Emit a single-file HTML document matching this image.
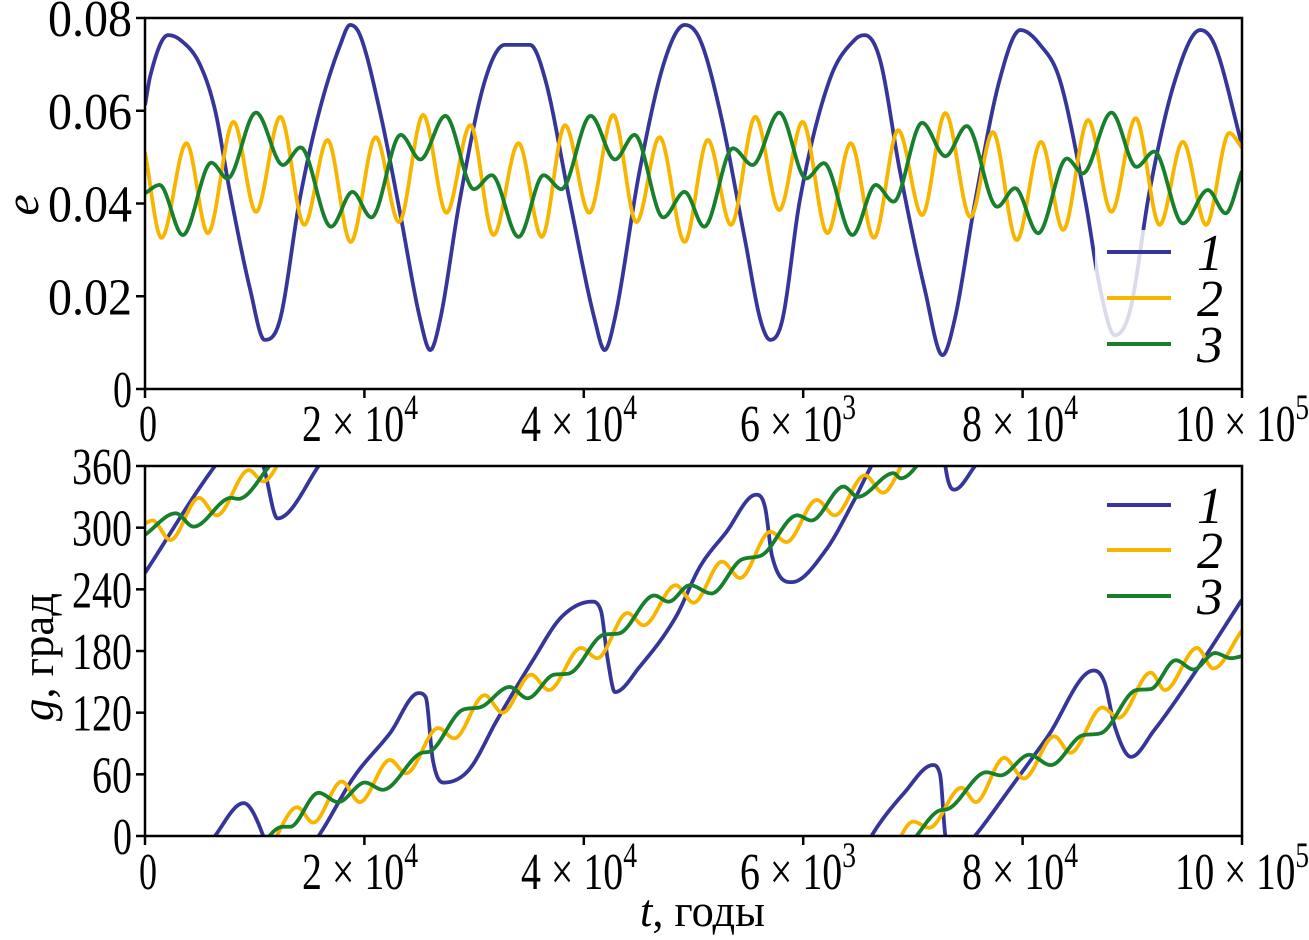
<!DOCTYPE html>
<html><head><meta charset="utf-8">
<style>
html,body{margin:0;padding:0;background:#fff;}
svg{display:block;}
text{font-family:"Liberation Serif","DejaVu Serif",serif;fill:#000;}
</style></head>
<body>
<svg id="chart" width="1309" height="940" viewBox="0 0 1309 940" xmlns="http://www.w3.org/2000/svg">
<defs>
<clipPath id="clipTop"><rect x="145" y="18" width="1097" height="371"/></clipPath>
<clipPath id="clipBot"><rect x="145" y="466" width="1097" height="370"/></clipPath>
</defs>
<g id="topPanel"></g>
<g id="botPanel"></g>
</svg>
<script>
// ---- data (t in thousands of years) ----
const xTickValues = [0, 20, 40, 60, 80, 100];
const xTickLabels = [["0",""],["2 × 10","4"],["4 × 10","4"],["6 × 10","3"],["8 × 10","4"],["10 × 10","5"]];
const eTickValues = [0, 0.02, 0.04, 0.06, 0.08];
const eTickLabels = ["0","0.02","0.04","0.06","0.08"];
const gTickValues = [0, 60, 120, 180, 240, 300, 360];
const gTickLabels = ["0","60","120","180","240","300","360"];
const seriesNames = ["1","2","3"];

const blueET = [0,0.5,2.1,3.2,5,6.4,7.7,9.6,10.9,12.3,14.1,15.9,17.8,18.7,19.6,21.4,23.2,25.1,26,26.9,28.7,31,32.8,35.1,36.5,38.7,41,41.9,42.8,45.1,47.4,49.2,50.6,52.4,54.7,56.1,57,58.1,59.7,62.4,64.7,65.6,67,68.8,71.1,72.7,73.8,75.7,77.9,79.8,81.6,83.4,85.7,87.1,88.4,89.8,91.6,93.9,96.2,97.5,100];
const blueEV = [0.0612,0.0677,0.0763,0.0753,0.070,0.060,0.043,0.0213,0.0106,0.0149,0.0408,0.060,0.0742,0.0785,0.0763,0.060,0.0386,0.0149,0.0084,0.0149,0.0408,0.0666,0.0742,0.0742,0.0666,0.0408,0.0149,0.0084,0.0149,0.0472,0.071,0.0785,0.0753,0.060,0.0321,0.0149,0.0106,0.0149,0.0408,0.0666,0.0753,0.0763,0.071,0.0472,0.0213,0.0073,0.0149,0.0408,0.0666,0.0774,0.0742,0.0666,0.0408,0.0213,0.0116,0.017,0.043,0.0666,0.0774,0.0742,0.0526];

const orangeET = [0,1.50,3.78,5.73,8.07,10.12,12.34,14.52,16.64,18.75,21.03,23.15,25.36,27.48,29.66,31.77,34.05,36.17,38.29,40.50,42.68,44.80,46.91,49.19,51.31,53.42,55.64,57.82,59.94,62.21,64.33,66.45,68.66,70.84,72.96,75.24,77.29,79.47,81.68,83.70,85.98,88.10,90.31,92.49,94.61,96.73,98.84,100];
const orangeEV = [0.051,0.0326,0.053,0.0336,0.0576,0.0382,0.0587,0.0354,0.0537,0.0317,0.0543,0.036,0.0591,0.038,0.0569,0.0332,0.053,0.0328,0.0569,0.038,0.0591,0.036,0.0543,0.0317,0.0537,0.0354,0.0587,0.0386,0.0576,0.0336,0.053,0.0326,0.0558,0.0375,0.0595,0.0371,0.0554,0.0321,0.0533,0.0343,0.058,0.0382,0.0584,0.0354,0.0533,0.0354,0.0552,0.052];

const greenET = [0,1.33,3.45,6.05,7.52,10.12,12.57,14.19,16.96,18.91,20.64,23.31,25.10,27.38,29.98,31.61,34.05,36.33,37.96,40.63,42.84,44.63,47.24,49.19,50.98,53.59,55.38,57.82,60.26,61.89,64.49,66.61,68.24,70.84,72.96,74.91,77.68,79.31,81.42,84.03,85.49,88.10,90.38,92.00,94.61,96.89,98.51,100];
const greenEV = [0.0422,0.0440,0.0332,0.0488,0.0454,0.0596,0.0483,0.0521,0.0350,0.0425,0.0370,0.0548,0.0495,0.0589,0.0431,0.0461,0.0328,0.0461,0.0431,0.0589,0.0495,0.0548,0.0370,0.0425,0.0350,0.0519,0.0483,0.0596,0.0454,0.0487,0.0332,0.0440,0.0404,0.0574,0.0502,0.0567,0.0393,0.0433,0.0336,0.0497,0.0465,0.0596,0.0479,0.0512,0.0357,0.0429,0.0379,0.047];

// g values unwrapped (degrees, plotted modulo 360)
const blueGT = [0,6.38,8.99,10.78,12.08,15.82,19.08,22.33,24.94,25.59,26.24,27.22,29.50,32.10,35.36,37.96,40.73,41.54,42.19,42.84,45.12,48.38,50.59,52.94,55.70,56.52,57.17,58.96,62.05,64.66,66.28,69.21,71.82,72.47,72.96,73.77,75.73,78.98,82.24,86.47,87.45,88.42,89.89,92.00,95.26,100];
const blueGV = [256,360,392,360,309,360,418,460,499,495,434,412,424,473,531,573,588,580,531,500,525,573,622,655,692,680,632,607,638,687,721,762,789,780,720,697,721,768,816,881,870,826,797,823,872,950];

const orangeGT = [0,0.68,2.31,4.92,6.54,9.47,10.78,13.87,15.33,17.94,19.57,22.33,23.80,26.73,28.19,30.96,32.59,35.19,36.82,39.75,41.22,43.98,45.45,48.38,50.01,52.61,54.24,57.01,58.47,61.24,62.87,65.63,67.26,70.03,71.49,74.42,75.73,78.33,80.12,82.89,84.35,87.28,88.75,91.68,92.98,95.91,97.38,100];
const orangeGV = [304,307,288,329,312,356,345,388,373,413,393,434,421,465,455,497,480,517,502,543,533,577,565,604,587,627,611,656,646,687,672,711,694,734,728,767,753,796,776,817,801,845,835,879,862,903,883,920];

const greenGT = [0,2.80,4.43,7.85,8.50,12.57,13.22,15.82,17.61,20.05,21.68,25.26,25.91,29.01,30.47,33.24,34.87,37.31,38.61,41.87,43.17,46.43,47.73,49.68,51.63,54.40,56.19,59.45,60.75,63.68,64.98,68.24,68.89,72.47,73.12,76.70,78.00,80.61,82.56,85.49,87.12,90.38,91.68,93.96,95.59,97.54,99.0,100];
const greenGV = [293,314,301,329,328,369,369,402,393,412,405,441,442,483,485,505,494,517,518,556,557,594,588,604,596,629,633,672,667,700,690,713,708,745,746,782,779,799,789,818,820,862,863,891,882,898,893,895];

// ---- axes ----
const X0=145, X1=1242;
const x = t => X0 + (t/100)*(X1-X0);
const yE = v => 389 - (v/0.08)*(389-18);
const yG = v => 836 - (v/360)*(836-466);

const NS="http://www.w3.org/2000/svg";
function mk(tag, attrs, parent){const e=document.createElementNS(NS,tag);for(const k in attrs)e.setAttribute(k,attrs[k]);parent.appendChild(e);return e;}

// monotone cubic (Fritsch-Carlson) sampling
function sample(T,V,n){
  const N=T.length, d=[], m=new Array(N);
  for(let i=0;i<N-1;i++) d.push((V[i+1]-V[i])/(T[i+1]-T[i]));
  m[0]=d[0]; m[N-1]=d[N-2];
  for(let i=1;i<N-1;i++){ m[i]=(d[i-1]*d[i]<=0)?0:(d[i-1]+d[i])/2; }
  for(let i=0;i<N-1;i++){
    if(d[i]===0){m[i]=0;m[i+1]=0;continue;}
    const a=m[i]/d[i], b=m[i+1]/d[i], s=a*a+b*b;
    if(s>9){const tau=3/Math.sqrt(s);m[i]=tau*a*d[i];m[i+1]=tau*b*d[i];}
  }
  const out=[];
  for(let i=0;i<N-1;i++){
    const h=T[i+1]-T[i];
    for(let k=0;k<n;k++){
      const s=k/n, h00=2*s*s*s-3*s*s+1, h10=s*s*s-2*s*s+s, h01=-2*s*s*s+3*s*s, h11=s*s*s-s*s;
      out.push([T[i]+s*h, h00*V[i]+h10*h*m[i]+h01*V[i+1]+h11*h*m[i+1]]);
    }
  }
  out.push([T[N-1],V[N-1]]);
  return out;
}

const colors = ["#36369a","#f7b500","#18802c"];

function drawAxes(g, yf, tv, tl, yTop, yBottom, labelBase){
  const fr=mk('rect',{x:X0,y:yTop,width:X1-X0,height:yBottom-yTop,fill:'none',stroke:'#000','stroke-width':2.5},g);
  
  
  tv.forEach((v,i)=>{
    const yy=yf(v);
    const tk=mk('line',{x1:X0-9,x2:X0,y1:yy,y2:yy,stroke:'#000','stroke-width':2.5},g);
    
    
    const w=tl[i].length===1?19:(tl[i].length===2?40:(tl[i].length===3?60:84));
    const tx=mk('text',{x:X0-13,y:yy+18,'text-anchor':'end','font-size':52,textLength:w,lengthAdjust:'spacingAndGlyphs'},g);
    tx.textContent=tl[i];
    
    
  });
  const lefts=[139,302,521,740,962,1175], widths=[18,116,116,116,116,134];
  xTickValues.forEach((v,i)=>{
    const xx=x(v);
    const tk=mk('line',{x1:xx,x2:xx,y1:yBottom,y2:yBottom+9,stroke:'#000','stroke-width':2.5},g);
    
    
    const tx=mk('text',{x:lefts[i],y:labelBase,'font-size':52},g);
    
    
    const lab=xTickLabels[i];
    const t1=mk('tspan',{},tx); t1.textContent=lab[0];
    if(lab[1]){const t2=mk('tspan',{dy:-22,'font-size':36},tx); t2.textContent=lab[1];}
    tx.setAttribute('textLength',widths[i]);
    tx.setAttribute('lengthAdjust','spacingAndGlyphs');
  });
}

function drawSeries(g, T, V, yf, color, wrap, clip, name){
  const pts=sample(T,V,24);
  const segs=[]; let cur=[];
  for(let i=0;i<pts.length;i++){
    const [t,v]=pts[i];
    if(wrap && i>0){
      const pv=pts[i-1][1], kp=Math.floor(pv/360), kc=Math.floor(v/360);
      if(kp!==kc){
        const b=(kc>kp?kc:kp)*360, pt=pts[i-1][0];
        const tc=pt+(b-pv)/(v-pv)*(t-pt);
        cur.push([x(tc), yf(kc>kp?360:0)]);
        segs.push(cur);
        cur=[[x(tc), yf(kc>kp?0:360)]];
      }
    }
    const vv=wrap?(v-360*Math.floor(v/360)):v;
    cur.push([x(t),yf(vv)]);
  }
  segs.push(cur);
  segs.forEach(s=>{
    const p=mk('path',{d:'M'+s.map(q=>q[0].toFixed(2)+','+q[1].toFixed(2)).join('L'),fill:'none',stroke:color,'stroke-width':3.8,'stroke-linejoin':'round','clip-path':'url(#'+clip+')'},g);
    
    
  });
}

function legend(g, ys, bg){
  if(bg){const r=mk('rect',{x:1095,y:230,width:140,height:140,fill:'#fff','fill-opacity':0.82},g);
    
    }
  ys.forEach((yy,i)=>{
    const l=mk('line',{x1:1107,x2:1171,y1:yy,y2:yy,stroke:colors[i],'stroke-width':4},g);
    
    
    const t=mk('text',{x:1210,y:yy+18,'text-anchor':'middle','font-size':52,'font-style':'italic'},g);
    t.textContent=seriesNames[i];
    
    
  });
}

const topG=document.getElementById('topPanel'), botG=document.getElementById('botPanel');
drawSeries(topG, blueET, blueEV, yE, colors[0], false, 'clipTop','series-1-e');
drawSeries(topG, orangeET, orangeEV, yE, colors[1], false, 'clipTop','series-2-e');
drawSeries(topG, greenET, greenEV, yE, colors[2], false, 'clipTop','series-3-e');
legend(topG,[252,298,344],true);
drawAxes(topG, yE, eTickValues, eTickLabels, 18, 389, 441);

drawSeries(botG, blueGT, blueGV, yG, colors[0], true, 'clipBot','series-1-g');
drawSeries(botG, orangeGT, orangeGV, yG, colors[1], true, 'clipBot','series-2-g');
drawSeries(botG, greenGT, greenGV, yG, colors[2], true, 'clipBot','series-3-g');
legend(botG,[505,550,596],false);
drawAxes(botG, yG, gTickValues, gTickLabels, 466, 836, 889);

// axis titles
const svgEl=document.getElementById('chart');
const e1=mk('text',{x:0,y:0,'font-size':48,'font-style':'italic','text-anchor':'middle',transform:'translate(38,205) rotate(-90)'},svgEl);
e1.textContent='e';


const g1=mk('text',{x:0,y:0,'font-size':46,'text-anchor':'middle',transform:'translate(53,657) rotate(-90)',textLength:128,lengthAdjust:'spacingAndGlyphs'},svgEl);
const gs=mk('tspan',{'font-style':'italic'},g1); gs.textContent='g';
const gr=mk('tspan',{},g1); gr.textContent=', град';


const t1=mk('text',{x:640,y:926,'font-size':46,textLength:125,lengthAdjust:'spacingAndGlyphs'},svgEl);
const ts=mk('tspan',{'font-style':'italic'},t1); ts.textContent='t';
const tr=mk('tspan',{},t1); tr.textContent=', годы';


</script>
</body></html>
